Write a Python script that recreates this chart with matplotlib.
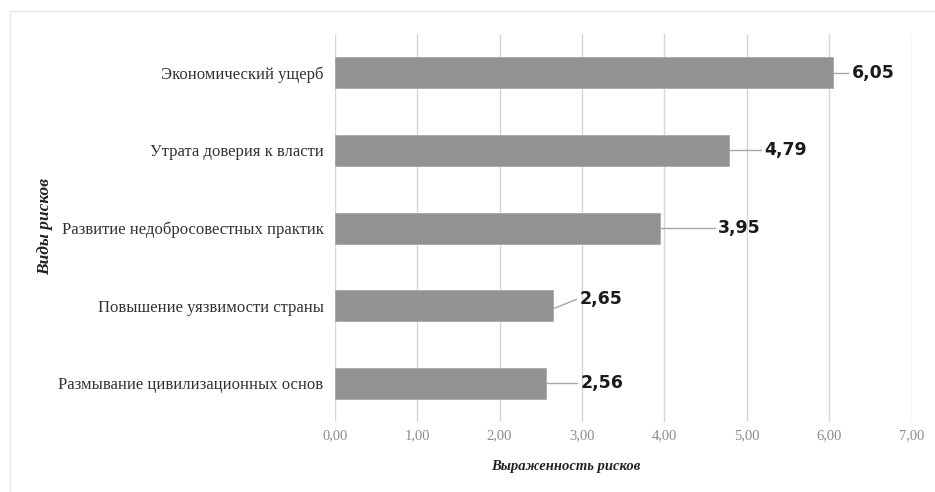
import numpy as np
import matplotlib
matplotlib.use("Agg")
import matplotlib.pyplot as plt
from matplotlib.patches import Rectangle

# data (bottom to top)
categories = [
    "Размывание цивилизационных основ",
    "Повышение уязвимости страны",
    "Развитие недобросовестных практик",
    "Утрата доверия к власти",
    "Экономический ущерб",
]
values = [2.56, 2.65, 3.95, 4.79, 6.05]
value_labels = ["2,56", "2,65", "3,95", "4,79", "6,05"]
xticks = [0, 1, 2, 3, 4, 5, 6, 7]

# label placement (data units): where the leader line ends / text sits
label_dx = [0.42, 0.32, 0.70, 0.42, 0.22]
label_dy = [0.0, 0.08, 0.0, 0.0, 0.0]


def main():
    plt.rcParams.update({
        "font.family": "Liberation Serif",
    })

    fig = plt.figure(figsize=(9.35, 4.92), dpi=100)
    fig.patches.append(Rectangle((0.0105, -0.01), 1.0, 0.988,
                                 transform=fig.transFigure, fill=False,
                                 edgecolor="#e6e6e6", linewidth=1.0))
    ax = fig.add_axes([0.358, 0.142, 0.617, 0.789])

    y = np.arange(len(categories))
    ax.barh(y, values, height=0.4, color="#929292", edgecolor="#a8a8a8",
            linewidth=0.6, zorder=3)

    for yi, v, lab, dx, dy in zip(y, values, value_labels, label_dx, label_dy):
        ax.plot([v, v + dx - 0.04], [yi - dy * 0.5 if dy else yi, yi + dy],
                color="#a6a6a6", linewidth=1.0, zorder=2)
        ax.text(v + dx, yi + dy, lab, fontsize=12.5, fontweight="bold",
                family="DejaVu Sans", va="center", ha="left", color="#1a1a1a")

    ax.set_xlim(0, 7)
    ax.set_ylim(-0.5, len(categories) - 0.5)
    ax.set_xticks(xticks)
    ax.set_xticklabels([f"{t:.2f}".replace(".", ",") for t in xticks],
                       fontsize=10.5, color="#8c8c8c")
    ax.set_yticks(y)
    ax.set_yticklabels(categories, fontsize=12, color="#333333")
    ax.tick_params(axis="x", length=0, pad=5)
    ax.tick_params(axis="y", length=0, pad=8)

    ax.grid(axis="x", color="#d6d6d6", linewidth=1.0, zorder=0)
    for s in ax.spines.values():
        s.set_visible(False)

    ax.set_xlabel("Выраженность рисков", fontsize=10.5, fontstyle="italic",
                  fontweight="bold", color="#222222")
    ax.xaxis.set_label_coords(0.40, -0.098)
    fig.text(0.048, 0.54, "Виды рисков", rotation=90, fontsize=12.5,
             fontstyle="italic", fontweight="bold", color="#222222",
             ha="center", va="center")

    fig.savefig("out.png", dpi=100)
    plt.close(fig)


if __name__ == "__main__":
    main()
